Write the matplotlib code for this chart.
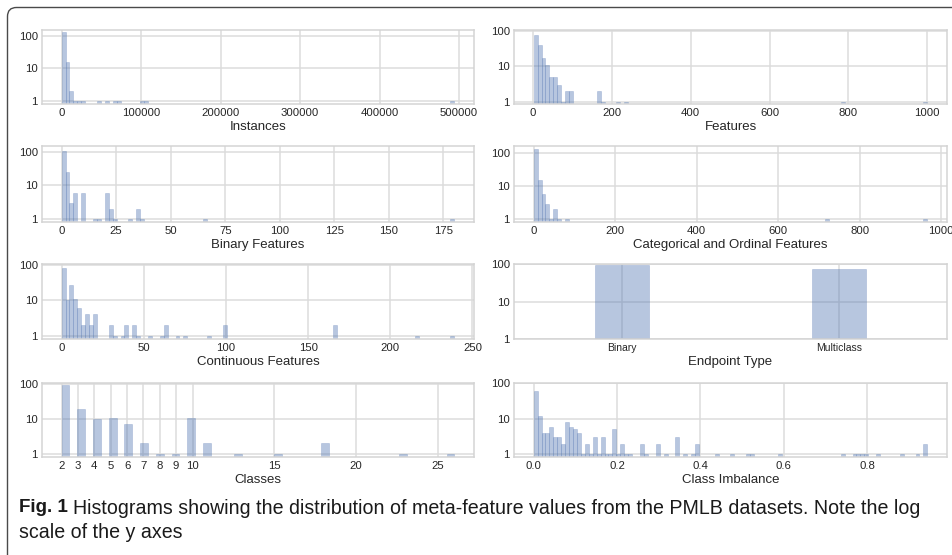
import numpy as np
import matplotlib
matplotlib.use("Agg")
import matplotlib.pyplot as plt
from matplotlib.patches import FancyBboxPatch
from matplotlib.transforms import IdentityTransform
from matplotlib.ticker import FixedLocator, FuncFormatter, NullLocator

plt.rcParams['font.family'] = ['Liberation Sans', 'DejaVu Sans']

BAR = '#4C72B0'
TXT = '#262626'

# histograms: 100 equal bins over (lo, hi),
# listed as bin number -> number of datasets
inst_range = (0, 494020)
inst_bin = [0, 1, 2, 3, 4, 5, 9, 11, 13, 14, 20, 21, 99]
inst_count = [134, 16, 2, 1, 1, 1, 1, 1, 1, 1, 1, 1, 1]

feat_range = (2, 1000)
feat_bin = [0, 1, 2, 3, 4, 5, 6, 7, 8, 9, 16, 17, 21, 23, 78, 99]
feat_count = [74, 39, 17, 11, 5, 5, 3, 1, 2, 2, 2, 1, 1, 1, 1, 1]

bin_range = (0, 180)
bin_bin = [0, 1, 2, 3, 5, 8, 9, 11, 12, 13, 17, 19, 20, 36, 99]
bin_count = [107, 25, 3, 6, 6, 1, 1, 6, 2, 1, 1, 2, 1, 1, 1]

cat_range = (0, 966)
cat_bin = [0, 1, 2, 3, 4, 5, 6, 8, 74, 99]
cat_count = [134, 15, 6, 3, 1, 2, 1, 1, 1, 1]

cont_range = (0, 239)
cont_bin = [0, 1, 2, 3, 4, 5, 6, 7, 8, 12, 13, 15, 16, 18, 19, 22, 25, 26,
            29, 31, 37, 41, 69, 90, 99]
cont_count = [78, 10, 27, 11, 6, 2, 4, 2, 4, 2, 1, 1, 2, 2, 1, 1, 1, 2,
              1, 1, 1, 2, 2, 1, 1]

imb_range = (0, 0.944)
imb_bin = [0, 1, 2, 3, 4, 5, 6, 7, 8, 9, 10, 11,
           12, 13, 14, 15, 16, 17, 18, 19, 20, 21, 22, 23, 24,
           27, 28, 31, 33, 36, 38, 40, 41, 46, 50, 54, 55, 62, 78,
           81, 82, 83, 84, 87, 93, 97, 99]
imb_count = [58, 12, 4, 4, 6, 3, 3, 2, 8, 6, 5, 4,
             1, 2, 1, 3, 1, 3, 1, 1, 5, 1, 2, 1, 1,
             2, 1, 2, 1, 3, 1, 1, 2, 1, 1, 1, 1, 1, 1,
             1, 1, 1, 1, 1, 1, 1, 2]

# classes: 50 bins over 2..26
class_vals = [2, 3, 4, 5, 6, 7, 8, 9, 10, 11, 13, 15, 18, 23, 26]
class_count = [94, 19, 10, 11, 7, 2, 1, 1, 11, 2, 1, 1, 2, 1, 1]
class_ticks = [2, 3, 4, 5, 6, 7, 8, 9, 10, 15, 20, 25]

endpoint_names = ['Binary', 'Multiclass']
endpoint_count = [94, 72]

fig = plt.figure(figsize=(9.52, 5.55), dpi=100)

W, H = 952.0, 555.0
cols = [(42, 474), (514, 947)]
rows = [(30, 104), (146, 222), (264, 339), (383, 457)]


def make_ax(r, c):
    x0, x1 = cols[c]
    y0, y1 = rows[r]
    ax = fig.add_axes([x0 / W, 1 - y1 / H, (x1 - x0) / W, (y1 - y0) / H])
    return ax


def style_ax(ax, ylim, xlabel):
    ax.set_yscale('log')
    ax.set_ylim(*ylim)
    ax.yaxis.set_major_locator(FixedLocator([1, 10, 100]))
    ax.yaxis.set_minor_locator(NullLocator())
    ax.yaxis.set_major_formatter(FuncFormatter(lambda v, p: '%d' % v))
    ax.grid(True, which='major', color='#dcdcdc', linewidth=1.1)
    ax.set_axisbelow(True)
    for s in ax.spines.values():
        s.set_color('#d4d4d4')
        s.set_linewidth(1.1)
    ax.tick_params(length=0, labelsize=8.2, colors=TXT, pad=3)
    ax.set_xlabel(xlabel, fontsize=9.5, color=TXT, labelpad=2)


def hist_panel(ax, rng, idx, cnt, nb=100):
    lo, hi = rng
    w = (hi - lo) / nb
    vals = lo + (np.array(idx) + 0.5) * w
    ax.hist(vals, bins=np.linspace(lo, hi, nb + 1), weights=cnt,
            color=BAR, alpha=0.4, edgecolor=BAR, linewidth=0.4, log=True)


panels = [
    (0, 0, inst_range, inst_bin, inst_count, 'Instances', (0.82, 150)),
    (0, 1, feat_range, feat_bin, feat_count, 'Features', (0.86, 104)),
    (1, 0, bin_range, bin_bin, bin_count, 'Binary Features', (0.83, 147)),
    (1, 1, cat_range, cat_bin, cat_count, 'Categorical and Ordinal Features', (0.83, 165)),
    (2, 0, cont_range, cont_bin, cont_count, 'Continuous Features', (0.8, 104)),
    (3, 1, imb_range, imb_bin, imb_count, 'Class Imbalance', (0.84, 100)),
]
for r, c, rng, idx, cnt, lab, yl in panels:
    ax = make_ax(r, c)
    hist_panel(ax, rng, idx, cnt)
    style_ax(ax, yl, lab)

# endpoint type
ax = make_ax(2, 1)
pos = np.arange(len(endpoint_names))
ax.bar(pos, endpoint_count, width=0.25, bottom=0, color=BAR, alpha=0.4,
       edgecolor=BAR, linewidth=0.4, log=True)
style_ax(ax, (1, 100), 'Endpoint Type')
ax.set_xlim(-0.5, 1.5)
ax.set_xticks(pos)
ax.set_xticklabels(endpoint_names, fontsize=7.5)

# classes
ax = make_ax(3, 0)
ax.hist(class_vals, bins=np.linspace(2, 26, 51), weights=class_count,
        color=BAR, alpha=0.4, edgecolor=BAR, linewidth=0.4, log=True)
style_ax(ax, (0.8, 109), 'Classes')
ax.set_xticks(class_ticks)
ax.set_xticklabels([str(t) for t in class_ticks])

# frame and caption
fig.patches.append(FancyBboxPatch((7.5, -30), 1000, 555 - 7.5 + 30,
                                  boxstyle='round,pad=0,rounding_size=9',
                                  transform=IdentityTransform(),
                                  facecolor='none', edgecolor='#4a4a4a',
                                  linewidth=1.0))

cap_font = ['Liberation Sans', 'DejaVu Sans']
fig.text(19 / W, 1 - 508 / H, 'Fig. 1', fontsize=13.5, fontweight='bold',
         family=cap_font, va='center', color='#1a1a1a')
fig.text(73 / W, 1 - 508 / H,
         'Histograms showing the distribution of meta-feature values from the PMLB datasets. Note the log',
         fontsize=14.1, family=cap_font, va='center', color='#1a1a1a')
fig.text(19 / W, 1 - 533 / H, 'scale of the y axes', fontsize=14.1,
         family=cap_font, va='center', color='#1a1a1a')

fig.savefig('out.png', dpi=100)
